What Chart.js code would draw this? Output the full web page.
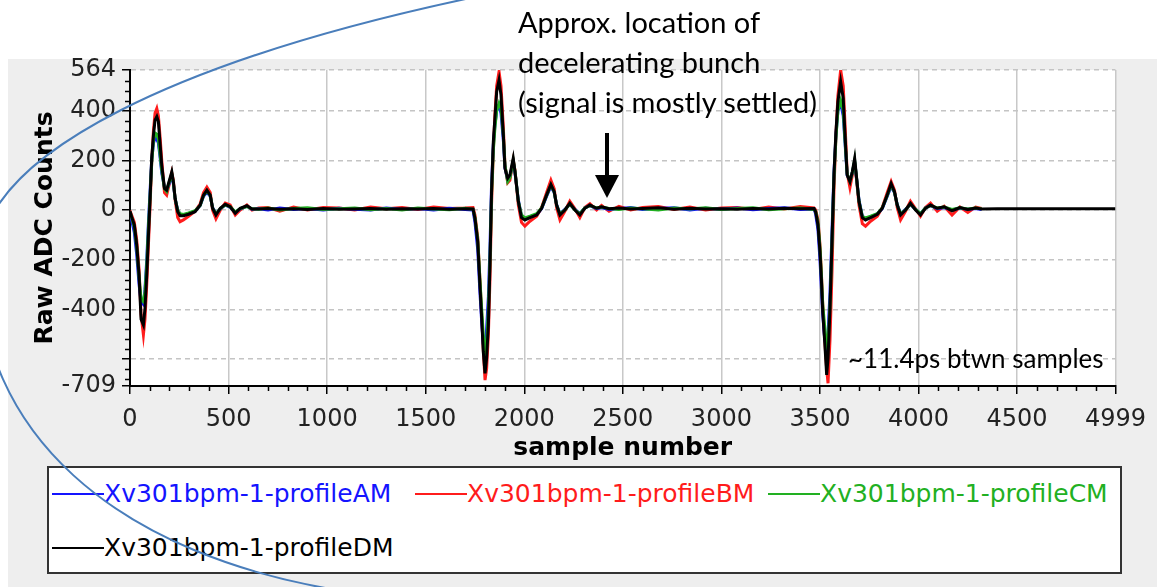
<!DOCTYPE html>
<html>
<head>
<meta charset="utf-8">
<script src="https://cdn.jsdelivr.net/npm/chart.js@4.4.1/dist/chart.umd.min.js"></script>
<style>
  html, body { margin: 0; padding: 0; background: #fff; }
  #wrap { position: relative; width: 1157px; height: 587px; overflow: hidden; }
  #panel { position: absolute; left: 8px; top: 59px; right: 0; bottom: 0; background: #eeeeee; }
  #c { position: absolute; left: 0; top: 0; z-index: 1; }
  .note { position: absolute; z-index: 2; font-family: Lato, sans-serif; color: #000; white-space: nowrap; }
  #legend { position: absolute; z-index: 2; left: 47px; top: 466px; width: 1071px; height: 104px;
            border: 2px solid #333; background: #fff; font-family: "DejaVu Sans", sans-serif; font-size: 25px; }
  .item { position: absolute; display: flex; align-items: center; white-space: nowrap; line-height: 30px; }
  .item .ln { display: inline-block; width: 52px; height: 2px; }
  #arc { position: absolute; left: 0; top: 0; z-index: 3; pointer-events: none; }
</style>
</head>
<body>
<div id="wrap">
  <div id="panel"></div>
  <canvas id="c" width="1157" height="587"></canvas>
  <div class="note" style="left:518px; top:2px; font-size:29px; line-height:40px;">Approx. location of<br>decelerating bunch<br>(signal is mostly settled)</div>
  <div class="note" style="left:848px; top:342px; font-size:26px; line-height:32px;">~11.4ps btwn samples</div>
  <div id="legend"></div>
  <svg id="arc" width="1157" height="587">
    <path d="M475 -3 C200 55 -30 150 -20 270 C-20 420 100 560 370 595" fill="none" stroke="#4a7ebb" stroke-width="2"/>
  </svg>
</div>
<script>
// sample numbers shared by all four profiles
var samples = [
  0, 8, 22, 34, 46, 56, 68, 76, 85, 93, 102, 110, 119, 127, 136, 144, 153, 161, 175, 186, 198, 212, 220, 229, 242, 254, 271, 297, 330, 356, 373, 390, 407, 419, 436, 458, 483, 508, 534, 559, 593, 619, 653, 700,
  760, 830, 900, 980, 1060, 1140, 1220, 1300, 1380, 1460, 1540, 1620, 1700, 1740,
  1750, 1764, 1775, 1784, 1792, 1801, 1809, 1818, 1826, 1834, 1843, 1851, 1860, 1872, 1882, 1894, 1902, 1916, 1927, 1944, 1953, 1970, 1986, 2003, 2029, 2063, 2088, 2113, 2135, 2152, 2164, 2181, 2206, 2231, 2257, 2282, 2307, 2333, 2367, 2392, 2430,
  2480, 2540, 2600, 2680, 2760, 2840, 2920, 3000, 3080, 3160, 3240, 3320, 3400, 3470,
  3478, 3490, 3500, 3507, 3514, 3524, 3534, 3541, 3551, 3561, 3571, 3581, 3591, 3605, 3618, 3628, 3638, 3652, 3664, 3676, 3686, 3698, 3715, 3731, 3757, 3791, 3816, 3841, 3861, 3878, 3892, 3909, 3934, 3959, 3985, 4010, 4035, 4061, 4095, 4130, 4170, 4210, 4250, 4290, 4320,
  4400, 4600, 4800, 4999
];

var profileA = [
  -10, -40, -90, -180, -300, -370, -380, -320, -200, -60, 80, 200, 270, 290, 285, 270, 210, 150, 90, 80, 105, 140, 105, 45, 0, -18, -20, -15, -5, 18, 55, 72, 55, 10, -15, 5, 20, 12, -10, 5, 15, 3, 5, 0,
  8, 2, 6, 0, 7, 3, 0, 8, 2, 6, 0, 7, 2, 0,
  -50, -160, -330, -450, -540, -560, -480, -350, -150, 100, 260, 340, 400, 420, 390, 280, 170, 120, 135, 195, 150, 40, -25, -35, -28, -18, 5, 55, 95, 70, 22, -15, 2, 22, 2, -15, 8, 18, 5, 10, 2,
  5, 10, 2, 6, 9, 0, 7, 3, 8, 1, 6, 9, 2, 4,
  -15, -80, -200, -310, -420, -520, -560, -500, -330, -90, 150, 300, 400, 430, 380, 260, 140, 120, 150, 195, 125, 40, -25, -35, -28, -15, 5, 55, 95, 70, 22, -15, 2, 22, 2, -15, 8, 18, 5, 10, 0, 8, 3, 6, 2
];

var profileB = [
  -3, -20, -50, -120, -240, -420, -503, -440, -300, -150, 20, 190, 320, 390, 409, 380, 290, 200, 70, 60, 100, 150, 120, 40, -30, -47, -40, -25, -5, 25, 70, 92, 70, 0, -35, 0, 28, 20, -20, 0, 20, 0, 8, 10,
  -5, 12, 0, 10, 8, 0, 12, 5, 10, 2, 12, 6, 8, 10,
  -20, -110, -280, -420, -560, -685, -640, -500, -280, 20, 240, 380, 500, 557, 500, 330, 180, 110, 120, 200, 160, 20, -50, -65, -45, -25, 10, 70, 120, 85, 10, -40, -5, 35, 5, -30, 10, 25, 0, 18, -5,
  15, 0, 10, 14, 2, 12, 0, 8, 10, 2, 12, 4, 14, 8,
  0, -40, -140, -250, -380, -520, -640, -698, -520, -250, 80, 300, 460, 564, 500, 330, 150, 90, 140, 190, 120, 20, -55, -65, -45, -25, 10, 70, 115, 80, 10, -40, -5, 35, 5, -25, 10, 28, -5, 15, -20, 12, -10, 12, 6
];

var profileC = [
  -8, -30, -70, -150, -270, -360, -370, -330, -220, -80, 60, 190, 280, 310, 305, 285, 220, 160, 85, 75, 110, 145, 110, 45, -2, -15, -18, -12, -3, 18, 58, 78, 58, 8, -15, 6, 20, 14, -8, 6, 14, 5, 3, 8,
  0, 6, 9, 2, 5, 8, 1, 6, 0, 8, 4, 1, 7, 3,
  -30, -120, -280, -400, -500, -570, -540, -400, -200, 60, 240, 330, 400, 430, 410, 300, 180, 115, 130, 200, 155, 35, -20, -32, -25, -15, 8, 58, 100, 72, 20, -15, 0, 24, 0, -15, 8, 18, 8, 12, 6,
  2, 8, 5, 0, 8, 4, 9, 2, 6, 9, 1, 5, 8, 2,
  -5, -50, -150, -260, -380, -470, -550, -540, -380, -130, 130, 290, 400, 440, 400, 270, 145, 115, 150, 200, 125, 35, -25, -32, -25, -15, 8, 58, 100, 72, 20, -15, 0, 24, 2, -15, 8, 18, 8, 12, 2, 9, 4, 8, 5
];

var profileD = [
  -5, -27, -60, -140, -262, -440, -463, -396, -262, -114, 47, 208, 302, 362, 376, 356, 262, 181, 87, 80, 114, 154, 114, 47, -7, -23, -23, -17, -7, 20, 60, 80, 60, 7, -20, 7, 23, 13, -13, 7, 17, 4, 4, 6,
  3, 5, 2, 6, 3, 4, 6, 3, 5, 4, 6, 3, 5, 4,
  -34, -128, -302, -436, -570, -658, -597, -463, -221, 74, 275, 369, 477, 523, 463, 302, 168, 128, 141, 208, 154, 34, -31, -40, -31, -20, 7, 60, 103, 74, 20, -20, 0, 27, 0, -20, 7, 20, 7, 13, 5,
  8, 4, 6, 9, 3, 7, 4, 5, 3, 6, 4, 7, 5, 6,
  -7, -60, -168, -275, -409, -530, -664, -597, -396, -128, 141, 315, 436, 517, 450, 289, 141, 114, 154, 208, 128, 34, -31, -40, -31, -17, 7, 60, 107, 74, 20, -20, 0, 27, 0, -20, 7, 20, 7, 13, -3, 10, 2, 8, 4,
  5, 5, 5, 5
];

var seriesNames = ['Xv301bpm-1-profileAM', 'Xv301bpm-1-profileBM', 'Xv301bpm-1-profileCM', 'Xv301bpm-1-profileDM'];
var seriesColors = ['#1414ff', '#ff1c1c', '#22b022', '#000000'];

var xTicks = [0, 500, 1000, 1500, 2000, 2500, 3000, 3500, 4000, 4500, 4999];
var yTicks = [-709, -600, -400, -200, 0, 200, 400, 564];

function toPoints(vals) {
    var pts = [];
    for (var i = 0; i < vals.length; i++) {
        pts.push({x: samples[i], y: vals[i]});
    }
    return pts;
}

// html legend
var legendPos = [[3, 11], [366, 11], [719, 11], [3, 65]];
var legendBox = document.getElementById('legend');
for (var i = 0; i < seriesNames.length; i++) {
    var it = document.createElement('div');
    it.className = 'item';
    it.style.left = legendPos[i][0] + 'px';
    it.style.top = legendPos[i][1] + 'px';
    it.style.color = seriesColors[i];
    it.innerHTML = '<span class="ln" style="background:' + seriesColors[i] + '"></span>' + seriesNames[i];
    legendBox.appendChild(it);
}

// white plot area
var plotBg = {
    id: 'plotBg',
    beforeDraw: function(chart) {
        var a = chart.chartArea, ctx = chart.ctx;
        ctx.save();
        ctx.fillStyle = '#fff';
        ctx.fillRect(a.left, a.top, a.right - a.left, a.bottom - a.top);
        ctx.restore();
    }
};

// minor tick marks + arrow annotation
var extras = {
    id: 'extras',
    afterDraw: function(chart) {
        var ctx = chart.ctx, a = chart.chartArea;
        var xs = chart.scales.x, ys = chart.scales.y;
        ctx.save();
        ctx.strokeStyle = '#000';
        ctx.lineWidth = 1.5;
        ctx.beginPath();
        for (var v = -680; v <= 564; v += 40) {
            var near = yTicks.some(function(t) { return Math.abs(t - v) < 10; });
            if (near) continue;
            var py = Math.round(ys.getPixelForValue(v)) + 0.5;
            ctx.moveTo(a.left - 5, py);
            ctx.lineTo(a.left, py);
        }
        for (var u = 100; u < 4999; u += 100) {
            if (u % 500 === 0) continue;
            var px = Math.round(xs.getPixelForValue(u)) + 0.5;
            ctx.moveTo(px, a.bottom);
            ctx.lineTo(px, a.bottom + 5);
        }
        ctx.stroke();

        // arrow pointing at the decelerating bunch
        ctx.fillStyle = '#000';
        ctx.fillRect(605, 133, 4, 46);
        ctx.beginPath();
        ctx.moveTo(595, 175);
        ctx.lineTo(619, 175);
        ctx.lineTo(607, 198);
        ctx.closePath();
        ctx.fill();
        ctx.restore();
    }
};

var tickFont = {family: 'DejaVu Sans', size: 24};
var titleFont = {family: 'DejaVu Sans', size: 25, weight: 'bold'};

var datasets = [];
var allProfiles = [profileA, profileB, profileC, profileD];
var drawOrder = [2, 3, 1, 0];
for (var k = 0; k < 4; k++) {
    datasets.push({
        label: seriesNames[k],
        data: toPoints(allProfiles[k]),
        borderColor: seriesColors[k],
        backgroundColor: seriesColors[k],
        borderWidth: 3,
        pointRadius: 0,
        tension: 0,
        fill: false,
        order: drawOrder[k]
    });
}

new Chart(document.getElementById('c'), {
    type: 'line',
    data: {datasets: datasets},
    options: {
        responsive: false,
        animation: false,
        layout: {padding: {left: 8, right: 40, top: 70, bottom: 121}},
        plugins: {legend: {display: false}, tooltip: {enabled: false}},
        scales: {
            x: {
                type: 'linear',
                min: 0,
                max: 4999,
                afterBuildTicks: function(scale) {
                    scale.ticks = xTicks.map(function(v) { return {value: v}; });
                },
                afterFit: function(scale) { scale.height = 80; },
                ticks: {
                    font: tickFont, color: '#222', padding: 11, autoSkip: false, maxRotation: 0,
                    callback: function(v) { return String(v); }
                },
                grid: {color: '#c8c8c8', lineWidth: 1.5, tickColor: '#000', tickLength: 8, tickWidth: 1.5},
                border: {color: '#000', width: 2},
                title: {display: true, text: 'sample number', font: titleFont, color: '#000', padding: {top: 0, bottom: 3}}
            },
            y: {
                type: 'linear',
                min: -709,
                max: 564,
                afterBuildTicks: function(scale) {
                    scale.ticks = yTicks.map(function(v) { return {value: v}; });
                },
                afterFit: function(scale) { scale.width = 122; },
                ticks: {
                    font: tickFont, color: '#222', padding: 6, autoSkip: false,
                    callback: function(v) { return v === -600 ? '' : String(v); }
                },
                grid: {color: '#c4c4c4', lineWidth: 1.5, tickColor: '#000', tickLength: 8, tickWidth: 1.5},
                border: {color: '#000', width: 2, dash: [5, 4]},
                title: {display: true, text: 'Raw ADC Counts', font: titleFont, color: '#000', padding: {top: 22, bottom: 0}}
            }
        }
    },
    plugins: [plotBg, extras]
});
</script>
</body>
</html>
